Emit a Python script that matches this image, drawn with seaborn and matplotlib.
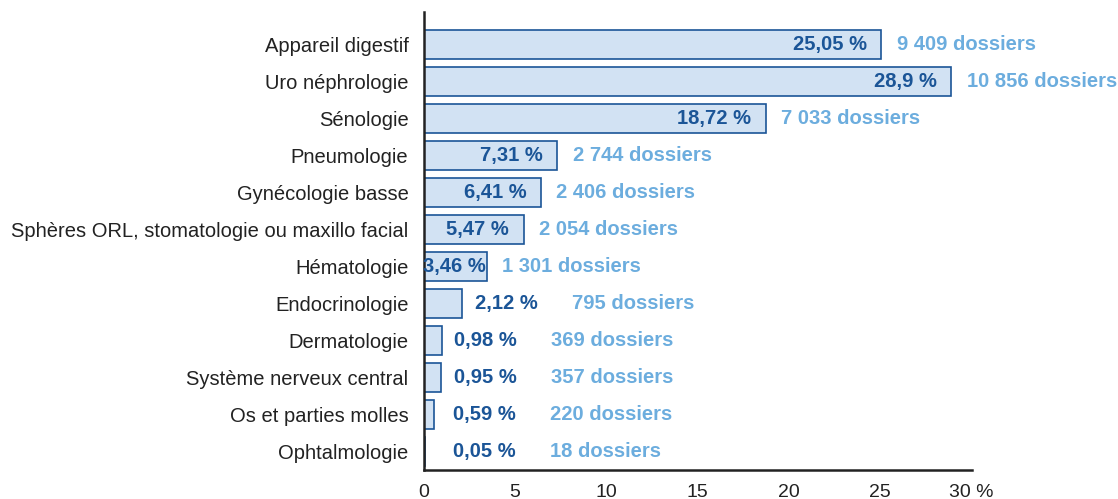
import matplotlib.pyplot as plt
import seaborn as sns
import pandas as pd

# Données
categories = ["Appareil digestif", "Uro néphrologie", "Sénologie", "Pneumologie",
              "Gynécologie basse", "Sphères ORL, stomatologie ou maxillo facial",
              "Hématologie", "Endocrinologie", "Dermatologie",
              "Système nerveux central", "Os et parties molles", "Ophtalmologie"]
pourcentages = [25.05, 28.9, 18.72, 7.31, 6.41, 5.47, 3.46, 2.12, 0.98, 0.95, 0.59, 0.05]
pct_labels = ["25,05 %", "28,9 %", "18,72 %", "7,31 %", "6,41 %", "5,47 %",
              "3,46 %", "2,12 %", "0,98 %", "0,95 %", "0,59 %", "0,05 %"]
dossiers = ["9 409", "10 856", "7 033", "2 744", "2 406", "2 054",
            "1 301", "795", "369", "357", "220", "18"]
xticks = [0, 5, 10, 15, 20, 25, 30]
xtick_labels = ["0", "5", "10", "15", "20", "25", "30 %"]

df = pd.DataFrame({"categorie": categories, "pct": pourcentages})

sns.set_style("white")
plt.rcParams['font.family'] = ['Liberation Sans', 'DejaVu Sans']

fig = plt.figure(figsize=(11.18, 4.99), dpi=100)
ax = fig.add_axes([0.379, 0.058, 0.49, 0.918])

dark = "#1b5597"
light = "#6cadde"
fs = 14.5

sns.barplot(data=df, x="pct", y="categorie", orient="h", color="#d2e2f3",
            saturation=1, edgecolor=dark, linewidth=1.2, width=0.78, ax=ax)

# Étiquettes
for i, (v, lab, d) in enumerate(zip(pourcentages, pct_labels, dossiers)):
    if v > 3:
        off = 0.8 if v > 4 else 0.05
        ax.text(v - off, i, lab, ha="right", va="center", color=dark,
                fontsize=fs, fontweight="bold")
        ax.text(v + 0.85, i, d + " dossiers", ha="left", va="center",
                color=light, fontsize=fs, fontweight="bold")
    else:
        px = max(v + 0.7, 1.6)
        ax.text(px, i, lab, ha="left", va="center", color=dark,
                fontsize=fs, fontweight="bold")
        ax.text(px + 5.3, i, d + " dossiers", ha="left", va="center",
                color=light, fontsize=fs, fontweight="bold")

ax.set_xlim(0, 30)
ax.set_ylim(11.49, -0.89)
ax.set_xticks(xticks)
ax.set_xticklabels(xtick_labels, fontsize=14)
ax.set_ylabel("")
ax.set_xlabel("")
ax.tick_params(axis="y", labelsize=fs, length=0, pad=11, colors="#222222")
ax.set_yticks([i + 0.5 for i in range(len(categories) - 1)], minor=True)
ax.tick_params(axis="y", which="minor", length=4, width=1.2, direction="out", color="#222222")
ax.tick_params(axis="x", direction="in", length=5, width=1.5, color="#222222",
               labelcolor="#222222", pad=10)

sns.despine(ax=ax, top=True, right=True)
for s in ["left", "bottom"]:
    ax.spines[s].set_linewidth(1.8)
    ax.spines[s].set_color("#222222")

plt.savefig("out.png", dpi=100)
